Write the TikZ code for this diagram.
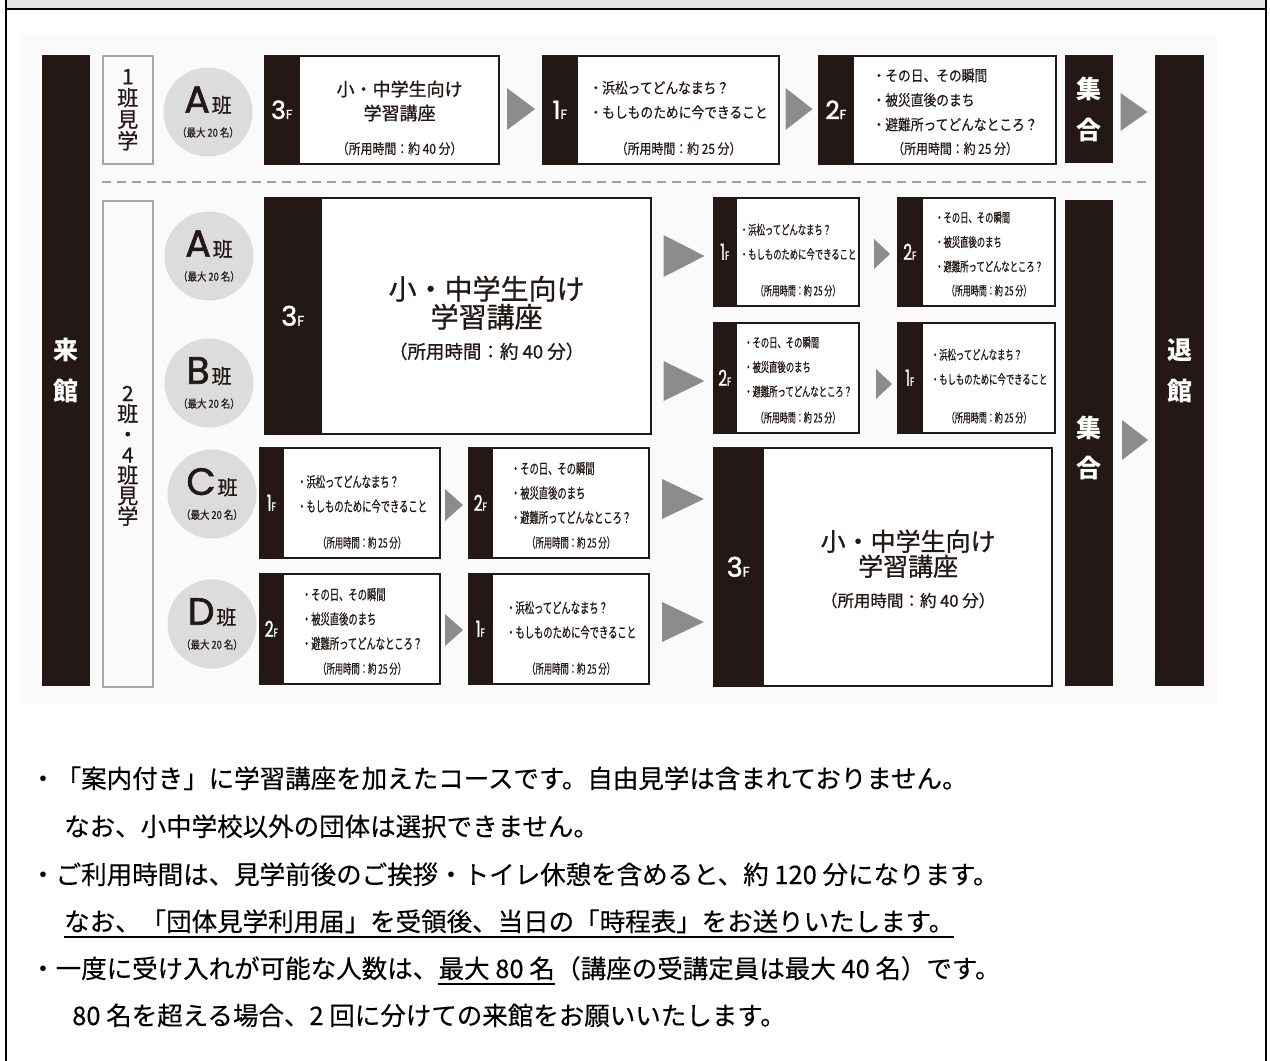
\documentclass[tikz,border=0pt]{standalone}
\usepackage{fontspec}
\setmainfont{Noto Sans CJK JP}
\newfontfamily\jpnarrow[FakeStretch=0.85,FakeBold=0.3]{Noto Sans CJK JP}
\newfontfamily\jpcond[FakeStretch=0.64,FakeBold=0.5]{Noto Sans CJK JP}
\newfontfamily\jpmed[FakeBold=0.8]{Noto Sans CJK JP}
\newfontfamily\jpnote[FakeBold=0.3]{Noto Sans CJK JP}
\newfontfamily\geo[FakeBold=1.6]{Poppins}
\newfontfamily\geocond[FakeStretch=0.7,FakeBold=1.2]{Poppins}
\usetikzlibrary{positioning,calc}

\definecolor{ink}{HTML}{231815}
\definecolor{arrowgray}{HTML}{8C8C8C}
\definecolor{circlegray}{HTML}{DCDCDC}
\definecolor{framegray}{HTML}{A6A6A6}
\definecolor{headgray}{HTML}{E5E5E5}

\newcommand{\pxsize}[2]{\fontsize{#1}{#2}\selectfont}
\newcommand{\floorone}{・浜松ってどんなまち？\\・もしものために今できること}
\newcommand{\floortwo}{・その日、その瞬間\\・被災直後のまち\\・避難所ってどんなところ？}
\newcommand{\shorttime}{（所用時間：約 25 分）}
\newcommand{\longtime}{（所用時間：約 40 分）}
\newcommand{\maxtwenty}{（最大 20 名）}

\tikzset{
  bar/.style={fill=ink, text=white, inner sep=0, anchor=north west, align=center, font=\bfseries\pxsize{25}{41}},
  group/.style={draw=framegray, line width=1.6, inner sep=0, anchor=north west},
  grouptext/.style={align=center, text=ink, inner sep=0},
  team/.style={circle, fill=circlegray, inner sep=0, minimum size=89, align=center, text=ink, font=\jpnarrow\pxsize{11}{24}},
  room/.style={draw=ink, line width=1.6, fill=white, inner sep=0, anchor=north west},
  tab/.style={fill=ink, draw=ink, line width=1.6, inner sep=0, anchor=north west},
  floorlbl/.style={text=white, inner sep=0, font=\geo\pxsize{25}{25}},
  floorcond/.style={text=white, inner sep=0, font=\geocond\pxsize{22}{22}},
  toplist/.style={align=left, inner sep=0, text=ink, font=\jpnarrow\pxsize{15}{24.5}},
  ablist/.style={align=left, inner sep=0, text=ink, font=\jpcond\pxsize{13}{24.5}},
  cdlist/.style={align=left, inner sep=0, text=ink, font=\jpcond\pxsize{14.5}{24.5}},
  toptime/.style={inner sep=0, text=ink, font=\jpnarrow\pxsize{14}{14}},
  abtime/.style={inner sep=0, text=ink, font=\jpcond\pxsize{12.5}{12.5}},
  cdtime/.style={inner sep=0, text=ink, font=\jpcond\pxsize{13}{13}},
  toptitle/.style={align=center, inner sep=0, text=ink, font=\jpmed\pxsize{18}{24}},
  bigtitle/.style={align=center, inner sep=0, text=ink},
  gap/.style={inner sep=0, outer sep=0},
  note/.style={anchor=base west, inner sep=0, text=black, font=\jpnote\pxsize{25.5}{26}},
  uline/.style={line width=1.6, black}
}

\begin{document}
\begin{tikzpicture}[x=1pt,y=-1pt]
\useasboundingbox (0,0) rectangle (1270,1061);
% frame and header
\fill[black!2] (20,33) rectangle (1217,705);
\fill[headgray] (6,0) rectangle (1266,9);
\draw[line width=2.5] (6,9) -- (1266,9);
\draw[line width=2.5] (6,0) -- (6,1061);
\draw[line width=2.5] (1266,0) -- (1266,1061);

% bars
\node[bar, minimum width=48, minimum height=631] (came) at (42,55) {来\\館};
\node[bar, minimum width=49, minimum height=631] (leave) at (1155,55) {退\\館};
\node[bar, minimum width=48, minimum height=108] (meet1) at (1065,55) {集\\合};
\node[bar, minimum width=48, minimum height=486] (meet2) at (1065,200) {};
\node[text=white, font=\bfseries\pxsize{25}{40}, align=center] (meet2-txt) at ($(meet2.center)+(0,5)$) {集\\合};

% groups
\node[group, minimum width=50, minimum height=108] (g1) at (102,55) {};
\node[grouptext, font=\jpmed\pxsize{21}{21.5}] (g1-txt) at (g1.center) {1\\班\\見\\学};
\node[group, minimum width=50, minimum height=486] (g2) at (102,200) {};
\node[grouptext, font=\jpmed\pxsize{21}{20.5}] (g2-txt) at ($(g2.center)+(0,12)$) {2\\班\\・\\4\\班\\見\\学};
\draw[gray!75, line width=1.8, dash pattern=on 9pt off 6pt] (102,182) -- (1147,182);

% teams
\foreach \nm/\x/\y/\t in {ta/208/112/A, a/209/256/A, b/209/383/B, c/212/494/C, d/212/624/D}
  \node[team] (\nm) at (\x,\y) {{\geo\pxsize{38}{38}\t}\,{\jpmed\pxsize{20}{20}班}\\\maxtwenty};

% rooms
\foreach \nm/\x/\y/\w/\h/\tw in {t3/264/55/234/108/34, t1/542/55/236/108/34, t2/818/55/237/108/34,
    ab3/264/197/386/236/56, a1/713/197/145/108/22, a2/897/197/157/108/24,
    b2/713/322/145/110/22, b1/897/322/157/110/24,
    c1/259/447/180/110/23, c2/468/447/180/110/23, d2/259/573/180/110/23, d1/468/573/180/110/23,
    cd3/713/447/338/238/49}{
  \node[room, minimum width=\w, minimum height=\h] (\nm) at (\x,\y) {};
  \node[tab, minimum width=\tw, minimum height=\h] (\nm-tab) at (\x,\y) {};
}
\foreach \nm/\n in {t3/3, t1/1, t2/2}
  \node[floorlbl] (\nm-fl) at (\nm-tab) {\n\pxsize{13}{13}F};
\foreach \nm in {ab3, cd3}
  \node[floorlbl, font=\geo\pxsize{27}{27}] (\nm-fl) at (\nm-tab) {3\pxsize{14}{14}F};
\foreach \nm/\n in {a1/1, a2/2, b2/2, b1/1, c1/1, c2/2, d2/2, d1/1}
  \node[floorcond] (\nm-fl) at (\nm-tab) {\n\pxsize{12}{12}F};

% room texts
\node[toptitle] (t3-txt) at ($(t3-tab.north east)!.5!(t3.north east)+(0,46)$) {小・中学生向け\\学習講座};
\node[toplist] (t1-txt) at ($(t1-tab.north east)!.5!(t1.north east)+(0,45)$) {\floorone};
\node[toplist] (t2-txt) at ($(t2-tab.north east)!.5!(t2.north east)+(0,45)$) {\floortwo};
\node[ablist] (a1-txt) at ($(a1-tab.north east)!.5!(a1.north east)+(0,45)$) {\floorone};
\node[ablist] (a2-txt) at ($(a2-tab.north east)!.5!(a2.north east)+(0,45)$) {\floortwo};
\node[ablist] (b2-txt) at ($(b2-tab.north east)!.5!(b2.north east)+(0,45)$) {\floortwo};
\node[ablist] (b1-txt) at ($(b1-tab.north east)!.5!(b1.north east)+(0,45)$) {\floorone};
\node[cdlist] (c1-txt) at ($(c1-tab.north east)!.5!(c1.north east)+(0,47)$) {\floorone};
\node[cdlist] (c2-txt) at ($(c2-tab.north east)!.5!(c2.north east)+(0,46)$) {\floortwo};
\node[cdlist] (d2-txt) at ($(d2-tab.north east)!.5!(d2.north east)+(0,46)$) {\floortwo};
\node[cdlist] (d1-txt) at ($(d1-tab.north east)!.5!(d1.north east)+(0,47)$) {\floorone};
\foreach \nm in {t3}
  \node[toptime] (\nm-time) at ($(\nm-tab.south east)!.5!(\nm.south east)+(0,-16)$) {\longtime};
\foreach \nm in {t1, t2}
  \node[toptime] (\nm-time) at ($(\nm-tab.south east)!.5!(\nm.south east)+(0,-16)$) {\shorttime};
\foreach \nm in {a1, a2, b2, b1}
  \node[abtime] (\nm-time) at ($(\nm-tab.south east)!.5!(\nm.south east)+(0,-16)$) {\shorttime};
\foreach \nm in {c1, c2, d2, d1}
  \node[cdtime] (\nm-time) at ($(\nm-tab.south east)!.5!(\nm.south east)+(0,-16)$) {\shorttime};
\node[bigtitle, font=\jpmed\pxsize{28}{28}] (ab3-txt) at ($(ab3-tab.north east)!.5!(ab3.north east)+(0,121)$)
  {小・中学生向け\\学習講座\\[3pt]{\pxsize{18.5}{18.5}\longtime}};
\node[bigtitle, font=\jpmed\pxsize{25}{25}] (cd3-txt) at ($(cd3-tab.north east)!.5!(cd3.north east)+(0,122)$)
  {小・中学生向け\\学習講座\\[6pt]{\pxsize{16.5}{16.5}\longtime}};

% arrows
\foreach \nm/\x/\y/\w/\h in {ar1/521/109/28/42, ar2/799/109/27/42, ar3/1134/112/27/38,
    ar4/684/256/41/42, ar5/684/381/41/40, ar6/882/254/16/30, ar7/884/384/16/30,
    ar8/454/505/18/32, ar9/454/630/18/32, ar10/683/499/42/40, ar11/683/622/42/40,
    ar12/1135/440/26/40}{
  \node[gap, minimum width=\w, minimum height=\h] (\nm) at (\x,\y) {};
  \fill[arrowgray] (\nm.north west) -- (\nm.east) -- (\nm.south west) -- cycle;
}

% notes
\node[note] (n1) at (30,788) {・「案内付き」に学習講座を加えたコースです。自由見学は含まれておりません。};
\node[note] (n2) at (64,836) {なお、小中学校以外の団体は選択できません。};
\node[note] (n3) at (30,884) {・ご利用時間は、見学前後のご挨拶・トイレ休憩を含めると、約 120 分になります。};
\node[note] (n4) at (64,931) {なお、「団体見学利用届」を受領後、当日の「時程表」をお送りいたします。};
\node[note] (n5a) at (30,978) {・一度に受け入れが可能な人数は、};
\node[note] (n5b) at (n5a.base east) {最大 80 名};
\node[note] (n5c) at (n5b.base east) {（講座の受講定員は最大 40 名）です。};
\node[note] (n6) at (72,1025) {80 名を超える場合、2 回に分けての来館をお願いいたします。};
\draw[uline] ([yshift=-6pt]n4.base west) -- ([yshift=-6pt]n4.base east);
\draw[uline] ([yshift=-6pt]n5b.base west) -- ([yshift=-6pt]n5b.base east);
\end{tikzpicture}
\end{document}
